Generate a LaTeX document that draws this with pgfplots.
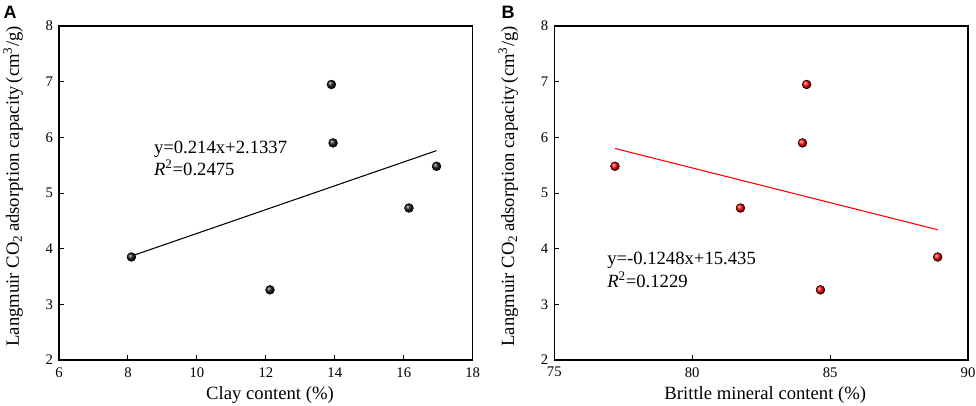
\documentclass[border=0pt]{standalone}
\usepackage{pgfplots}
\pgfplotsset{compat=1.18}
\usepackage{fontspec}
\setmainfont{Liberation Serif}
\newfontfamily\labfont{Liberation Sans}
\begin{document}
\begin{tikzpicture}
\useasboundingbox (0,0) rectangle (732pt,304.5pt);
\pgfplotsset{
  myax/.style={
    scale only axis,
    width=310.3pt, height=250.5pt,
    ymin=2, ymax=8, ytick={2,3,...,8},
    tick align=inside, xtick pos=left, ytick pos=left,
    major tick length=3.75pt,
    axis line style={line width=0.8pt},
    every tick/.style={line width=0.7pt, black},
    tick label style={font=\fontsize{11pt}{12pt}\selectfont},
    /pgf/number format/assume math mode=true,
    xticklabel style={yshift=-2pt},
    yticklabel style={xshift=-1pt},
    label style={font=\fontsize{14pt}{16pt}\selectfont},
    xlabel style={at={(axis description cs:0.51,0)}, anchor=center, yshift=-26.3pt},
    ylabel style={at={(axis description cs:-0.111,0.52)}, anchor=center},
    ylabel={Langmuir CO\textsubscript{2}\,adsorption capacity\,(cm\textsuperscript{3}/g)},
  }
}
\begin{axis}[myax, at={(44.25pt,34.5pt)},
  xmin=6, xmax=18, xtick={6,8,...,18},
  xlabel={Clay content (\%)}]
\addplot[black, line width=0.8pt] coordinates {(8.1,3.867) (16.95,5.761)};
\addplot[only marks, mark=ball, mark size=3.3pt, mark options={ball color=black!90}] coordinates {
(8.1,3.85) (12.12,3.26) (13.9,6.95) (13.95,5.9) (16.15,4.73) (16.95,5.48)};
\node[anchor=west, align=left, font=\fontsize{14pt}{17pt}\selectfont] at (axis cs:8.62,5.62) {y=0.214x+2.1337\\\textit{R}\textsuperscript{2}=0.2475};
\end{axis}
\begin{axis}[myax, at={(415.7pt,34.5pt)},
  xmin=75, xmax=90, xtick={75,80,...,90},
  xlabel={Brittle mineral content (\%)}]
\addplot[red, line width=0.8pt] coordinates {(77.2,5.800) (88.9,4.340)};
\addplot[only marks, mark=ball, mark size=3.3pt, mark options={ball color=red}] coordinates {
(77.2,5.48) (81.75,4.73) (84.0,5.9) (84.15,6.95) (84.65,3.26) (88.9,3.85)};
\node[anchor=west, align=left, font=\fontsize{14pt}{17pt}\selectfont] at (axis cs:76.75,3.62) {y=-0.1248x+15.435\\\textit{R}\textsuperscript{2}=0.1229};
\end{axis}
\node[font=\labfont\bfseries\fontsize{13.5pt}{15pt}\selectfont] at (7.5pt,295.5pt) {A};
\node[font=\labfont\bfseries\fontsize{13.5pt}{15pt}\selectfont] at (381pt,295.5pt) {B};
\end{tikzpicture}
\end{document}
